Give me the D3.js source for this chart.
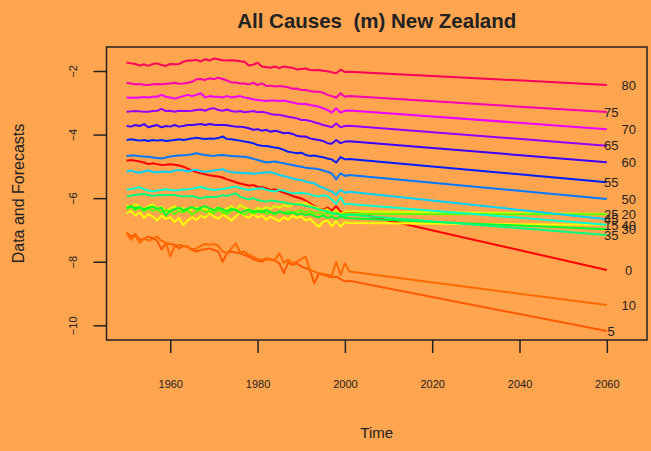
<!DOCTYPE html>
<html>
<head>
<meta charset="utf-8">
<script src="https://cdn.jsdelivr.net/npm/d3@7"></script>
<style>
  body { margin: 0; background: #FFA54F; }
  svg { display: block; font-family: "Liberation Sans", Arial, Helvetica, sans-serif; }
</style>
</head>
<body>
<svg width="651" height="451"></svg>
<script>

// observed years
var years = [1950,1951,1952,1953,1954,1955,1956,1957,1958,1959,
             1960,1961,1962,1963,1964,1965,1966,1967,1968,1969,
             1970,1971,1972,1973,1974,1975,1976,1977,1978,1979,
             1980,1981,1982,1983,1984,1985,1986,1987,1988,1989,
             1990,1991,1992,1993,1994,1995,1996,1997,1998,1999,2000];

// forecast horizon
var fcYears = [2001, 2060];

var ages = [0,5,10,15,20,25,30,35,40,45,50,55,60,65,70,75,80];

// log death rates, one array per age group
var age0  = [-4.82,-4.80,-4.82,-4.85,-4.88,-4.93,-4.90,-4.93,-4.96,-4.95,-4.93,-4.95,-4.97,-5.01,-5.07,-5.13,-5.18,-5.22,-5.25,-5.28,-5.30,-5.32,-5.35,-5.41,-5.45,-5.50,-5.54,-5.57,-5.60,-5.59,-5.64,-5.66,-5.69,-5.74,-5.73,-5.77,-5.83,-5.87,-5.93,-5.97,-6.01,-6.08,-6.16,-6.25,-6.32,-6.37,-6.30,-6.39,-6.25,-6.42,-6.48];
var age5  = [-7.08,-7.21,-7.13,-7.31,-7.29,-7.21,-7.26,-7.34,-7.61,-7.42,-7.44,-7.47,-7.58,-7.50,-7.54,-7.63,-7.68,-7.63,-7.61,-7.58,-7.63,-7.68,-8.00,-7.73,-7.68,-7.71,-7.73,-7.79,-7.84,-7.92,-7.96,-8.00,-7.92,-7.94,-7.96,-8.05,-8.36,-8.03,-8.10,-8.05,-8.15,-8.20,-8.26,-8.68,-8.38,-8.41,-8.45,-8.49,-8.47,-8.55,-8.62];
var age10 = [-7.10,-7.31,-7.16,-7.40,-7.26,-7.34,-7.29,-7.21,-7.34,-7.40,-7.84,-7.52,-7.47,-7.50,-7.52,-7.61,-7.58,-7.50,-7.44,-7.47,-7.44,-7.50,-7.68,-7.73,-7.58,-7.42,-7.71,-7.68,-7.79,-7.84,-7.92,-7.94,-7.89,-7.92,-7.94,-7.73,-8.03,-7.94,-8.05,-8.00,-7.92,-7.84,-8.26,-8.31,-8.36,-8.38,-8.41,-8.45,-8.00,-8.41,-8.05];
var age15 = [-6.48,-6.40,-6.55,-6.45,-6.62,-6.50,-6.58,-6.70,-6.55,-6.65,-6.60,-6.75,-6.62,-6.85,-6.70,-6.60,-6.68,-6.55,-6.62,-6.48,-6.58,-6.65,-6.52,-6.60,-6.70,-6.58,-6.45,-6.55,-6.62,-6.50,-6.60,-6.55,-6.68,-6.58,-6.65,-6.72,-6.60,-6.68,-6.55,-6.62,-6.58,-6.70,-6.65,-6.78,-6.90,-6.75,-6.70,-6.88,-6.72,-6.90,-6.76];
var age20 = [-6.22,-6.30,-6.18,-6.27,-6.35,-6.25,-6.20,-6.32,-6.28,-6.40,-6.33,-6.25,-6.38,-6.30,-6.42,-6.35,-6.28,-6.37,-6.30,-6.45,-6.35,-6.28,-6.40,-6.32,-6.25,-6.38,-6.22,-6.30,-6.35,-6.42,-6.30,-6.36,-6.28,-6.33,-6.25,-6.30,-6.22,-6.27,-6.20,-6.15,-6.18,-6.14,-6.22,-6.28,-6.32,-6.40,-6.35,-6.48,-6.38,-6.50,-6.42];
var age25 = [-6.35,-6.28,-6.38,-6.30,-6.42,-6.33,-6.40,-6.36,-6.45,-6.38,-6.42,-6.50,-6.40,-6.45,-6.38,-6.52,-6.42,-6.36,-6.45,-6.40,-6.48,-6.38,-6.44,-6.50,-6.40,-6.35,-6.45,-6.52,-6.42,-6.48,-6.44,-6.38,-6.50,-6.45,-6.52,-6.42,-6.48,-6.40,-6.46,-6.42,-6.38,-6.45,-6.40,-6.48,-6.44,-6.52,-6.46,-6.55,-6.45,-6.52,-6.50];
var age30 = [-6.30,-6.25,-6.32,-6.28,-6.35,-6.30,-6.27,-6.33,-6.30,-6.55,-6.40,-6.35,-6.30,-6.38,-6.33,-6.28,-6.35,-6.30,-6.25,-6.32,-6.38,-6.30,-6.35,-6.42,-6.33,-6.38,-6.45,-6.40,-6.36,-6.42,-6.40,-6.45,-6.38,-6.44,-6.48,-6.42,-6.46,-6.50,-6.45,-6.52,-6.48,-6.54,-6.50,-6.56,-6.60,-6.55,-6.62,-6.58,-6.65,-6.57,-6.62];
var age35 = [-5.95,-5.92,-5.90,-5.88,-5.87,-5.90,-5.93,-5.91,-5.90,-5.91,-5.90,-5.90,-5.93,-5.95,-5.94,-5.93,-5.97,-6.00,-5.97,-5.95,-5.97,-5.95,-5.91,-5.93,-5.89,-5.85,-5.95,-6.00,-6.04,-6.00,-6.06,-6.09,-6.11,-6.07,-6.09,-6.11,-6.13,-6.16,-6.18,-6.19,-6.21,-6.25,-6.27,-6.31,-6.35,-6.39,-6.42,-6.46,-6.50,-6.53,-6.56];
var age40 = [-5.74,-5.71,-5.69,-5.66,-5.72,-5.76,-5.79,-5.76,-5.74,-5.72,-5.74,-5.76,-5.74,-5.73,-5.72,-5.70,-5.67,-5.64,-5.69,-5.72,-5.74,-5.73,-5.71,-5.69,-5.66,-5.64,-5.68,-5.72,-5.74,-5.72,-5.70,-5.69,-5.74,-5.77,-5.79,-5.74,-5.77,-5.81,-5.85,-5.84,-5.83,-5.85,-5.88,-5.92,-5.95,-5.91,-5.93,-6.04,-6.18,-5.97,-6.20];
var age45 = [-5.17,-5.13,-5.18,-5.20,-5.16,-5.13,-5.17,-5.19,-5.16,-5.17,-5.18,-5.13,-5.11,-5.13,-5.16,-5.12,-5.11,-5.15,-5.17,-5.15,-5.13,-5.11,-5.09,-5.15,-5.18,-5.19,-5.20,-5.22,-5.21,-5.23,-5.22,-5.20,-5.19,-5.18,-5.22,-5.27,-5.30,-5.34,-5.38,-5.41,-5.43,-5.48,-5.51,-5.53,-5.62,-5.67,-5.74,-5.79,-5.90,-5.74,-5.83];
var age50 = [-4.67,-4.66,-4.66,-4.68,-4.69,-4.70,-4.72,-4.74,-4.75,-4.72,-4.69,-4.67,-4.66,-4.65,-4.64,-4.62,-4.59,-4.62,-4.64,-4.66,-4.67,-4.65,-4.64,-4.66,-4.67,-4.68,-4.69,-4.70,-4.72,-4.76,-4.80,-4.84,-4.88,-4.86,-4.85,-4.88,-4.90,-4.93,-4.96,-4.99,-5.01,-5.04,-5.06,-5.07,-5.09,-5.13,-5.17,-5.22,-5.41,-5.22,-5.30];
var age55 = [-4.17,-4.15,-4.17,-4.19,-4.17,-4.20,-4.17,-4.19,-4.17,-4.20,-4.19,-4.17,-4.15,-4.17,-4.15,-4.12,-4.10,-4.12,-4.14,-4.12,-4.13,-4.11,-4.06,-4.14,-4.15,-4.17,-4.19,-4.22,-4.24,-4.27,-4.33,-4.35,-4.36,-4.38,-4.41,-4.43,-4.48,-4.54,-4.56,-4.59,-4.57,-4.64,-4.67,-4.66,-4.69,-4.71,-4.75,-4.78,-4.88,-4.71,-4.78];
var age60 = [-3.73,-3.75,-3.70,-3.73,-3.67,-3.77,-3.73,-3.70,-3.77,-3.73,-3.75,-3.70,-3.75,-3.73,-3.70,-3.70,-3.68,-3.67,-3.70,-3.67,-3.69,-3.70,-3.70,-3.71,-3.73,-3.75,-3.75,-3.77,-3.80,-3.85,-3.83,-3.88,-3.85,-3.91,-3.88,-3.91,-3.96,-3.94,-3.98,-4.04,-4.06,-4.06,-4.12,-4.15,-4.17,-4.20,-4.27,-4.29,-4.17,-4.27,-4.22];
var age65 = [-3.28,-3.27,-3.26,-3.27,-3.28,-3.28,-3.26,-3.25,-3.19,-3.26,-3.25,-3.28,-3.25,-3.26,-3.26,-3.25,-3.23,-3.21,-3.25,-3.19,-3.17,-3.23,-3.25,-3.21,-3.26,-3.28,-3.26,-3.30,-3.28,-3.26,-3.30,-3.28,-3.31,-3.35,-3.38,-3.38,-3.41,-3.44,-3.46,-3.49,-3.54,-3.54,-3.57,-3.61,-3.65,-3.70,-3.73,-3.77,-3.65,-3.77,-3.73];
var age70 = [-2.83,-2.84,-2.84,-2.83,-2.82,-2.83,-2.81,-2.81,-2.75,-2.81,-2.83,-2.87,-2.83,-2.79,-2.75,-2.79,-2.75,-2.70,-2.83,-2.79,-2.81,-2.81,-2.83,-2.79,-2.83,-2.81,-2.79,-2.83,-2.86,-2.89,-2.91,-2.93,-2.94,-2.93,-2.93,-2.94,-2.93,-2.96,-2.99,-3.02,-3.04,-3.04,-3.07,-3.09,-3.12,-3.17,-3.23,-3.31,-3.17,-3.31,-3.25];
var age75 = [-2.37,-2.39,-2.42,-2.41,-2.43,-2.44,-2.42,-2.41,-2.42,-2.40,-2.39,-2.37,-2.40,-2.39,-2.37,-2.34,-2.26,-2.25,-2.28,-2.23,-2.26,-2.21,-2.25,-2.30,-2.36,-2.36,-2.39,-2.39,-2.42,-2.37,-2.44,-2.39,-2.47,-2.46,-2.49,-2.47,-2.49,-2.51,-2.56,-2.55,-2.60,-2.60,-2.63,-2.65,-2.65,-2.68,-2.75,-2.79,-2.84,-2.70,-2.81];
var age80 = [-1.73,-1.76,-1.78,-1.83,-1.79,-1.84,-1.78,-1.76,-1.81,-1.84,-1.78,-1.79,-1.78,-1.71,-1.67,-1.67,-1.65,-1.70,-1.63,-1.67,-1.61,-1.63,-1.66,-1.67,-1.66,-1.67,-1.69,-1.71,-1.83,-1.80,-1.74,-1.86,-1.88,-1.90,-1.86,-1.91,-1.86,-1.88,-1.90,-1.95,-1.94,-1.92,-1.97,-1.98,-1.97,-1.99,-2.01,-2.04,-2.07,-1.96,-2.03];

// forecast at 2001 and 2060, by age
var fcStart = [-6.42,-8.60,-8.31,-6.78,-6.41,-6.50,-6.63,-6.52,-6.18,-5.80,-5.27,-4.77,-4.21,-3.72,-3.24,-2.79,-2.02];
var fcEnd   = [-8.26,-10.18,-9.36,-6.84,-6.50,-6.51,-6.98,-7.16,-6.84,-6.66,-6.03,-5.50,-4.87,-4.35,-3.83,-3.29,-2.44];

var colors = ["#FF0000","#FF5A00","#FF6A00","#FFFF00","#D8FF00","#5AFF00","#00FF2A","#00FF80",
              "#00FFD2","#00D2FF","#0078FF","#001EFF","#3C00FF","#9600FF","#F000FF","#FF00B4","#FF005A"];

var rates = [age0, age5, age10, age15, age20, age25, age30, age35, age40,
             age45, age50, age55, age60, age65, age70, age75, age80];

var svg = d3.select("svg"),
    box = {left: 106.5, right: 647, top: 47, bottom: 340};

var x = d3.scaleLinear()
    .domain([1945.4, 2069.2])
    .range([box.left, box.right]);

var y = d3.scaleLinear()
    .domain([-10.462, -1.245])
    .range([box.bottom, box.top]);

var line = d3.line()
    .x(function(d) { return x(d[0]); })
    .y(function(d) { return y(d[1]); });

var ink = "#222";

// data followed by the forecast, one path per age
var g = svg.append("g");
rates.forEach(function(r, i) {
    var pts = years.map(function(yr, j) { return [yr, r[j]]; });
    pts.push([fcYears[0], fcStart[i]], [fcYears[1], fcEnd[i]]);
    g.append("path")
        .datum(pts)
        .attr("fill", "none")
        .attr("stroke", colors[i])
        .attr("stroke-width", 2)
        .attr("stroke-linejoin", "round")
        .attr("d", line);
});

// age labels at the end of the forecasts
svg.append("g")
    .selectAll("text")
    .data(ages)
  .enter().append("text")
    .attr("x", function(d, i) { return x(i % 2 ? 2061 : 2065); })
    .attr("y", function(d, i) { return y(fcEnd[i]); })
    .attr("dy", "0.36em")
    .attr("text-anchor", "middle")
    .attr("font-size", 13)
    .attr("fill", ink)
    .text(function(d) { return d; });

// box
svg.append("rect")
    .attr("x", box.left).attr("y", box.top)
    .attr("width", box.right - box.left).attr("height", box.bottom - box.top)
    .attr("fill", "none")
    .attr("stroke", ink)
    .attr("stroke-width", 1.5);

// axes
var xAxis = svg.append("g")
    .attr("transform", "translate(0," + box.bottom + ")")
    .call(d3.axisBottom(x).tickValues([1960, 1980, 2000, 2020, 2040, 2060])
          .tickFormat(d3.format("d")).tickSize(13).tickPadding(27));

var yAxis = svg.append("g")
    .attr("transform", "translate(" + box.left + ",0)")
    .call(d3.axisLeft(y).tickValues([-10, -8, -6, -4, -2]).tickSize(13));

[xAxis, yAxis].forEach(function(a) {
    a.select(".domain").remove();
    a.selectAll("line").attr("stroke", ink).attr("stroke-width", 1.5);
    a.selectAll("text").attr("fill", ink)
        .attr("font-size", 11)
        .attr("font-family", "'Liberation Sans', Arial, sans-serif");
});

yAxis.selectAll("text")
    .attr("x", null)
    .attr("dy", null)
    .attr("text-anchor", "middle")
    .attr("transform", "translate(-30,0) rotate(-90)");

// titles
svg.append("text")
    .attr("x", (box.left + box.right) / 2)
    .attr("y", 28)
    .attr("text-anchor", "middle")
    .attr("font-size", 20.5)
    .attr("font-weight", "bold")
    .attr("fill", ink)
    .style("white-space", "pre")
    .text("All Causes  (m) New Zealand");

svg.append("text")
    .attr("x", (box.left + box.right) / 2)
    .attr("y", 438)
    .attr("text-anchor", "middle")
    .attr("font-size", 15)
    .attr("fill", ink)
    .text("Time");

svg.append("text")
    .attr("transform", "translate(24," + (box.top + box.bottom) / 2 + ") rotate(-90)")
    .attr("text-anchor", "middle")
    .attr("font-size", 16)
    .attr("fill", ink)
    .text("Data and Forecasts");

</script>
</body>
</html>
